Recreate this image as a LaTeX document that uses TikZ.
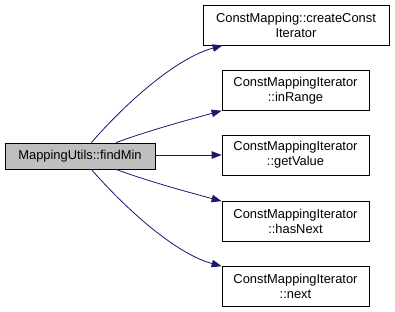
\documentclass[tikz,border=0pt]{standalone}
\usepackage{fontspec}
\setmainfont{Liberation Sans}
\usetikzlibrary{arrows.meta}
\definecolor{edgeblue}{HTML}{191970}
\definecolor{curfill}{HTML}{BFBFBF}
\begin{document}
\begin{tikzpicture}[x=1pt,y=-1pt,
  fn/.style={draw=black,line width=0.8pt,fill=white,align=center,inner sep=0pt,
    font=\fontsize{12.9}{15}\selectfont,minimum height=40,minimum width=147},
  call/.style={draw=edgeblue,line width=0.8pt,
    -{Triangle[length=10pt,width=7.5pt]}}]
\useasboundingbox (0,0) rectangle (395,312);
\node[fn,fill=curfill,minimum width=150,minimum height=26] (src) at (80,156) {MappingUtils::findMin};
\node[fn,minimum width=186] (t1) at (296,25) {ConstMapping::createConst\\Iterator};
\node[fn] (t2) at (295.5,90.5) {ConstMappingIterator\\::inRange};
\node[fn] (t3) at (295.5,155) {ConstMappingIterator\\::getValue};
\node[fn] (t4) at (295.5,221) {ConstMappingIterator\\::hasNext};
\node[fn] (t5) at (295.5,286.5) {ConstMappingIterator\\::next};
\draw[call] (src) .. controls (115,115) and (170,60) .. (t1);
\draw[call] (src) .. controls (150,130) and (195,118) .. (t2);
\draw[call] (src.east |- t3) -- (t3);
\draw[call] (src) .. controls (150,182) and (195,194) .. (t4);
\draw[call] (src) .. controls (115,197) and (170,252) .. (t5);
\end{tikzpicture}
\end{document}
